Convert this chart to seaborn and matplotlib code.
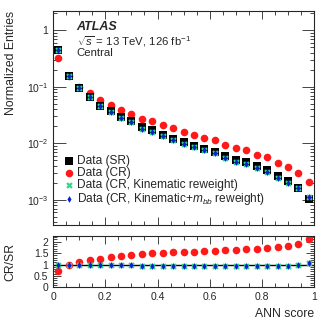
import numpy as np
import matplotlib
matplotlib.use('Agg')
import matplotlib.pyplot as plt
import seaborn as sns
from matplotlib.ticker import MultipleLocator, FuncFormatter, LogLocator, NullFormatter

# bin centres of the ANN score histogram (25 bins of 0.04)
ann_score = [0.02, 0.06, 0.10, 0.14, 0.18, 0.22, 0.26, 0.30, 0.34, 0.38, 0.42, 0.46, 0.50,
             0.54, 0.58, 0.62, 0.66, 0.70, 0.74, 0.78, 0.82, 0.86, 0.90, 0.94, 0.98]

sr = [0.455, 0.158, 0.094, 0.0663, 0.0465, 0.0368, 0.0293, 0.0245, 0.0192, 0.0170, 0.0143,
      0.0120, 0.0104, 0.0091, 0.0080, 0.00713, 0.00589, 0.0050, 0.00469, 0.00392, 0.00333,
      0.00261, 0.00212, 0.00163, 0.00105]
cr = [0.325, 0.155, 0.0996, 0.078, 0.0577, 0.0484, 0.0395, 0.0336, 0.0274, 0.0245, 0.0214,
      0.0184, 0.0159, 0.0139, 0.0125, 0.0113, 0.0095, 0.0083, 0.0077, 0.0063, 0.0057,
      0.0045, 0.0038, 0.0030, 0.00207]
cr_kin = [0.455, 0.158, 0.094, 0.0656, 0.0456, 0.0357, 0.0281, 0.0235, 0.0182, 0.0162, 0.0134,
          0.0113, 0.0098, 0.0086, 0.0075, 0.0067, 0.0055, 0.0047, 0.0044, 0.0037, 0.0031,
          0.00245, 0.0020, 0.00161, 0.00113]
cr_mbb = [0.456, 0.158, 0.094, 0.0657, 0.0457, 0.0358, 0.0282, 0.0236, 0.0183, 0.0162, 0.0135,
          0.0113, 0.0098, 0.0086, 0.0075, 0.0067, 0.0055, 0.0047, 0.0044, 0.0037, 0.0031,
          0.00246, 0.0020, 0.00162, 0.00114]

ratio_cr = [0.70, 0.98, 1.09, 1.19, 1.26, 1.33, 1.38, 1.43, 1.46, 1.49, 1.50, 1.53, 1.55,
            1.57, 1.59, 1.61, 1.62, 1.63, 1.67, 1.70, 1.72, 1.77, 1.81, 1.91, 2.13]
ratio_kin = [1.0, 1.0, 1.0, 0.99, 0.98, 0.97, 0.96, 0.96, 0.95, 0.95, 0.94, 0.94, 0.94,
             0.94, 0.94, 0.94, 0.94, 0.94, 0.94, 0.94, 0.94, 0.94, 0.95, 0.99, 1.08]
ratio_mbb = [1.0, 1.0, 1.0, 0.99, 0.98, 0.97, 0.96, 0.96, 0.95, 0.95, 0.94, 0.94, 0.94,
             0.94, 0.94, 0.94, 0.94, 0.94, 0.94, 0.94, 0.94, 0.94, 0.95, 0.99, 1.08]

sns.set_style('ticks')
plt.rcParams['font.family'] = ['Liberation Sans', 'DejaVu Sans']
plt.rcParams['mathtext.fontset'] = 'custom'
plt.rcParams['mathtext.rm'] = 'Liberation Sans'
plt.rcParams['mathtext.it'] = 'Liberation Sans:italic'
plt.rcParams['axes.linewidth'] = 0.8

GREEN = '#2bd98a'
BLUE = '#0a1fd0'

fig = plt.figure(figsize=(3.32, 3.19), dpi=100)
ax = fig.add_axes([0.160, 0.2947, 0.786, 0.671])
rax = fig.add_axes([0.160, 0.0994, 0.786, 0.1606])

sns.scatterplot(x=ann_score, y=sr, marker='s', s=38, color='black', edgecolor='black',
                linewidth=0, ax=ax, label='Data (SR)', zorder=3)
sns.scatterplot(x=ann_score, y=cr, marker='o', s=30, color='#ff1a1a', edgecolor='#ff1a1a',
                linewidth=0, ax=ax, label='Data (CR)', zorder=2)
sns.scatterplot(x=ann_score, y=cr_kin, marker='X', s=22, color=GREEN, edgecolor=GREEN,
                linewidth=0, ax=ax, label='Data (CR, Kinematic reweight)', zorder=4)
sns.scatterplot(x=ann_score, y=cr_mbb, marker='d', s=12, color=BLUE, edgecolor=BLUE,
                linewidth=0, ax=ax, label='Data (CR, Kinematic+$m_{bb}$ reweight)', zorder=5)

ax.set_yscale('log')
ax.set_xlim(0, 1)
ax.set_ylim(3.6e-4, 2.2)
ax.set_ylabel('Normalized Entries', fontsize=8.8, loc='top')
ax.yaxis.set_label_coords(-0.14, 1.0)
ax.set_xlabel('')
ax.xaxis.set_major_locator(MultipleLocator(0.2))
ax.xaxis.set_minor_locator(MultipleLocator(0.05))
ax.xaxis.set_major_formatter(NullFormatter())
ax.yaxis.set_major_locator(LogLocator(base=10, numticks=10))
ax.yaxis.set_minor_locator(LogLocator(base=10, subs=np.arange(2, 10), numticks=20))
ax.yaxis.set_minor_formatter(NullFormatter())
ax.yaxis.set_major_formatter(FuncFormatter(
    lambda v, p: '1' if abs(v - 1) < 1e-9 else r'$10^{%d}$' % round(np.log10(v))))

ax.legend(loc='upper left', bbox_to_anchor=(0.015, 0.35), frameon=False, fontsize=8.6,
          handletextpad=0.05, labelspacing=0.0, handlelength=1.2, borderaxespad=0)

ax.text(0.09, 0.955, 'ATLAS', transform=ax.transAxes, fontsize=9, fontweight='bold',
        fontstyle='italic', va='top')
ax.text(0.09, 0.89, r'$\sqrt{s}$ = 13 TeV, 126 fb$^{-1}$', transform=ax.transAxes,
        fontsize=8.2, va='top')
ax.text(0.09, 0.825, 'Central', transform=ax.transAxes, fontsize=8.2, va='top')

rax.axhline(1.0, color='black', lw=1.0, zorder=1)
sns.scatterplot(x=ann_score, y=ratio_cr, marker='o', s=30, color='#ff1a1a', edgecolor='#ff1a1a',
                linewidth=0, ax=rax, zorder=2)
sns.scatterplot(x=ann_score, y=ratio_kin, marker='X', s=22, color=GREEN, edgecolor=GREEN,
                linewidth=0, ax=rax, zorder=3)
sns.scatterplot(x=ann_score, y=ratio_mbb, marker='d', s=12, color=BLUE, edgecolor=BLUE,
                linewidth=0, ax=rax, zorder=4)
rax.set_xlim(0, 1)
rax.set_ylim(0, 2.25)
rax.set_ylabel('CR/SR', fontsize=8.8)
rax.yaxis.set_label_coords(-0.14, 0.5)
rax.set_xlabel('ANN score', fontsize=8.8, loc='right')
rax.xaxis.set_label_coords(1.0, -0.4)
rax.xaxis.set_major_locator(MultipleLocator(0.2))
rax.xaxis.set_minor_locator(MultipleLocator(0.05))
rax.yaxis.set_major_locator(MultipleLocator(0.5))
rax.yaxis.set_minor_locator(MultipleLocator(0.1))
rax.xaxis.set_major_formatter(FuncFormatter(lambda v, p: '%g' % round(v, 2)))
rax.yaxis.set_major_formatter(FuncFormatter(lambda v, p: '%g' % v))

for a in (ax, rax):
    a.tick_params(which='both', direction='in', top=True, right=True, labelsize=7.5, width=0.6)
    a.tick_params(which='major', length=6)
    a.tick_params(which='minor', length=3)
    for s in a.spines.values():
        s.set_visible(True)
ax.tick_params(axis='y', which='major', length=9)

fig.savefig('out.png', dpi=100)
